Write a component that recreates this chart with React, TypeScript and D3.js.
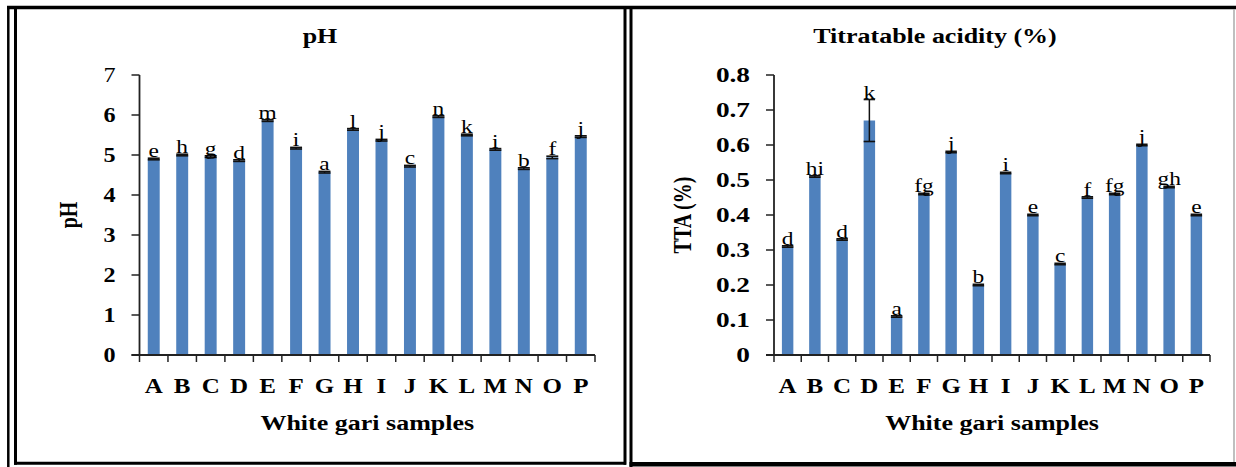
import React from 'react';
import * as d3 from 'd3';

const samples = ['A', 'B', 'C', 'D', 'E', 'F', 'G', 'H', 'I', 'J', 'K', 'L', 'M', 'N', 'O', 'P'];

const phValues = [4.9, 5.0, 4.96, 4.86, 5.86, 5.17, 4.57, 5.64, 5.37, 4.72, 5.96, 5.5, 5.14, 4.66, 4.94, 5.46];
const phErrors = [0.02, 0.02, 0.02, 0.02, 0.02, 0.02, 0.02, 0.02, 0.02, 0.02, 0.02, 0.02, 0.02, 0.02, 0.03, 0.02];
const phLetters = ['e', 'h', 'g', 'd', 'm', 'i', 'a', 'l', 'j', 'c', 'n', 'k', 'i', 'b', 'f', 'j'];

const ttaValues = [0.31, 0.51, 0.33, 0.67, 0.11, 0.46, 0.58, 0.2, 0.52, 0.4, 0.26, 0.45, 0.46, 0.6, 0.48, 0.4];
const ttaErrors = [0.002, 0.002, 0.002, 0.06, 0.002, 0.002, 0.002, 0.002, 0.002, 0.002, 0.002, 0.002, 0.002, 0.002, 0.002, 0.002];
const ttaLetters = ['d', 'hi', 'd', 'k', 'a', 'fg', 'j', 'b', 'i', 'e', 'c', 'f', 'fg', 'j', 'gh', 'e'];

const FONT = '"Liberation Serif", "Times New Roman", serif';
const BAR = '#4F81BD';

// stretched serif text (the source picture is widened horizontally)
function Label({ x, y, sx = 1.25, size = 20, bold = true, anchor = 'middle', rotate = 0, children }: any) {
  const t = rotate
    ? `translate(${x},${y}) rotate(${rotate}) scale(1,${sx})`
    : `translate(${x},${y}) scale(${sx},1)`;
  return (
    <text
      transform={t}
      textAnchor={anchor}
      fontFamily={FONT}
      fontSize={size}
      fontWeight={bold ? 'bold' : 'normal'}
      fill="#000"
    >
      {children}
    </text>
  );
}

function Panel({ values, errors, letters, yMax, left, right, title, titleX, yTitle, yTitleX, fmt, tickSx }: any) {
  const top = 75, bottom = 355;
  const x = d3.scaleBand().domain(samples).range([left, right]).padding(0);
  const y = d3.scaleLinear().domain([0, yMax]).range([bottom, top]);
  const bw = x.bandwidth() * 0.42;
  const ticks = y.ticks(yMax > 1 ? 7 : 8);

  return (
    <g>
      <Label x={titleX} y={43} sx={1.3}>{title}</Label>

      {samples.map((s, i) => {
        const cx = x(s)! + x.bandwidth() / 2;
        const v = values[i], e = errors[i];
        const yt = y(v + e), yb = y(v - e);
        return (
          <g key={s}>
            <rect x={cx - bw / 2} y={y(v)} width={bw} height={bottom - y(v)} fill={BAR} />
            <line x1={cx} x2={cx} y1={yt} y2={yb} stroke="#111" strokeWidth={1.5} />
            <line x1={cx - bw / 2} x2={cx + bw / 2} y1={yt} y2={yt} stroke="#111" strokeWidth={1.6} />
            <line x1={cx - bw / 2} x2={cx + bw / 2} y1={yb} y2={yb} stroke="#111" strokeWidth={1.6} />
            <Label x={cx} y={yt - 1} sx={1.2} size={19.5} bold={false}>{letters[i]}</Label>
            <Label x={cx} y={393} sx={1.25}>{s}</Label>
          </g>
        );
      })}

      {/* axes */}
      <line x1={left} x2={left} y1={top} y2={bottom} stroke="#222" strokeWidth={1.8} />
      <line x1={left - 8} x2={right} y1={bottom} y2={bottom} stroke="#222" strokeWidth={1.8} />
      {ticks.map((t) => (
        <g key={t}>
          <line x1={left - 8} x2={left} y1={y(t)} y2={y(t)} stroke="#222" strokeWidth={1.5} />
          <Label x={left - 24} y={y(t) + 7} anchor="end" size={21} sx={tickSx} bold={!(yMax > 1 && t === yMax)}>
            {fmt(t)}
          </Label>
        </g>
      ))}
      {d3.range(samples.length + 1).map((i) => {
        const tx = left + i * x.bandwidth();
        return <line key={i} x1={tx} x2={tx} y1={bottom} y2={bottom + 7} stroke="#222" strokeWidth={1.5} />;
      })}

      <Label x={yTitleX} y={215} rotate={-90} sx={1.25}>{yTitle}</Label>
      <Label x={(left + right) / 2} y={430} sx={1.3}>White gari samples</Label>
    </g>
  );
}

export default function App() {
  return (
    <svg width={1236} height={467} style={{ position: 'absolute', left: 0, top: 0, background: '#fff' }}>
      <rect width={1236} height={467} fill="#fff" />

      <Panel
        values={phValues}
        errors={phErrors}
        letters={phLetters}
        yMax={7}
        left={139.5}
        right={595}
        title="pH"
        titleX={320}
        yTitle="pH"
        yTitleX={77}
        tickSx={1.15}
        fmt={(t: number) => String(t)}
      />
      <Panel
        values={ttaValues}
        errors={ttaErrors}
        letters={ttaLetters}
        yMax={0.8}
        left={774}
        right={1210}
        title="Titratable acidity (%)"
        titleX={935}
        yTitle="TTA (%)"
        yTitleX={691}
        tickSx={1.3}
        fmt={(t: number) => (t === 0 ? '0' : d3.format('.1f')(t))}
      />

      {/* frames */}
      <g stroke="#000" fill="none">
        <line x1={7} x2={1236} y1={7.5} y2={7.5} strokeWidth={3.5} />
        <line x1={8.3} x2={8.3} y1={6} y2={467} strokeWidth={2.5} />
        <line x1={15.5} x2={15.5} y1={7} y2={464.7} strokeWidth={3} />
        <line x1={14} x2={626} y1={463.2} y2={463.2} strokeWidth={3} />
        <line x1={625} x2={625} y1={7} y2={464.7} strokeWidth={3} />
        <line x1={631} x2={631} y1={7} y2={467} strokeWidth={3} />
        <line x1={629.5} x2={1236} y1={464.3} y2={464.3} strokeWidth={4.5} />
        <line x1={1234} x2={1234} y1={9} y2={462} stroke="#aaa" strokeWidth={1.5} />
      </g>
    </svg>
  );
}
